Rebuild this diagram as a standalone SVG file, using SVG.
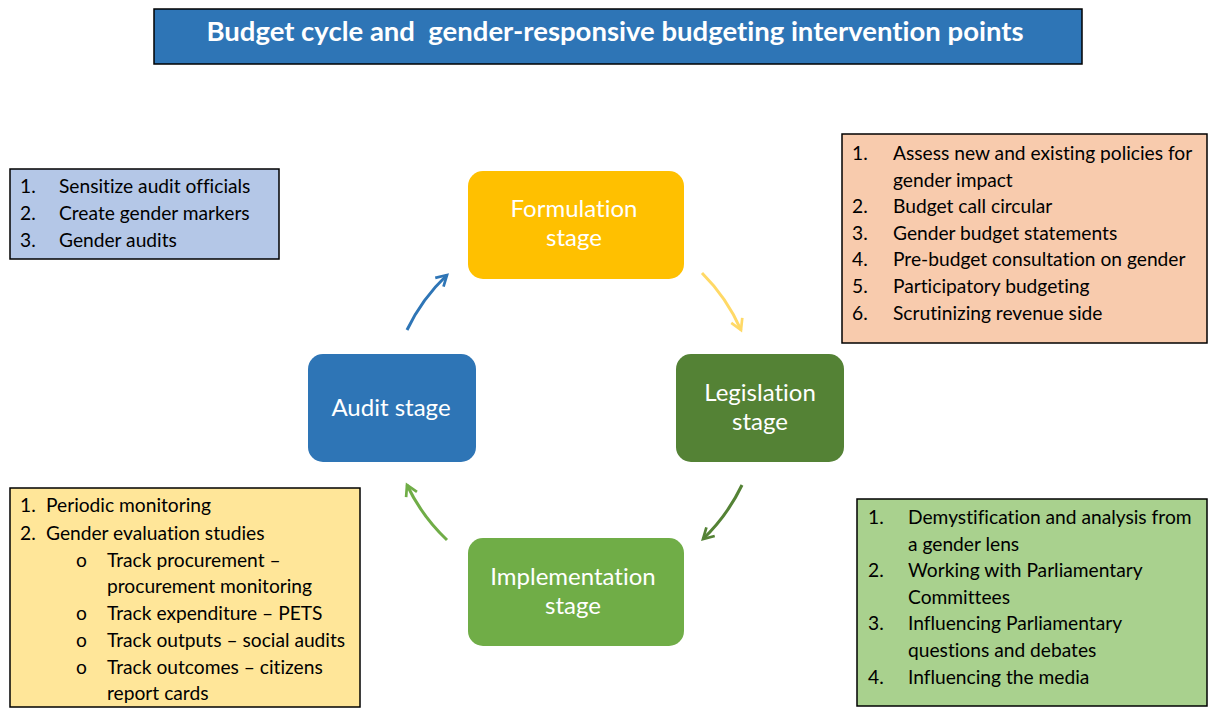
<svg xmlns="http://www.w3.org/2000/svg" width="1209" height="708" viewBox="0 0 1209 708">
<style>
text{font-variant-ligatures:none}
.box{stroke:#000;stroke-width:1.5}
.t{font-family:Lato,"Liberation Sans",sans-serif;font-size:19.2px;fill:#000}
.st{font-family:Lato,"Liberation Sans",sans-serif;font-size:24px;fill:#fff;text-anchor:middle}
.arc{fill:none;stroke-width:3}
</style>
<defs>
<marker id="mb" viewBox="0 0 10 10" refX="8" refY="5" markerWidth="5" markerHeight="5" orient="auto" markerUnits="strokeWidth"><path d="M1,1 L8,5 L1,9" fill="none" stroke="#2E75B6" stroke-width="1.8"/></marker>
<marker id="my" viewBox="0 0 10 10" refX="8" refY="5" markerWidth="5" markerHeight="5" orient="auto" markerUnits="strokeWidth"><path d="M1,1 L8,5 L1,9" fill="none" stroke="#FFD966" stroke-width="1.8"/></marker>
<marker id="mdg" viewBox="0 0 10 10" refX="8" refY="5" markerWidth="5" markerHeight="5" orient="auto" markerUnits="strokeWidth"><path d="M1,1 L8,5 L1,9" fill="none" stroke="#548235" stroke-width="1.8"/></marker>
<marker id="mlg" viewBox="0 0 10 10" refX="8" refY="5" markerWidth="5" markerHeight="5" orient="auto" markerUnits="strokeWidth"><path d="M1,1 L8,5 L1,9" fill="none" stroke="#70AD47" stroke-width="1.8"/></marker>
</defs>
<rect width="1209" height="708" fill="#fff"/>
<g id="title">
<rect x="154" y="9" width="928" height="55" fill="#2E75B6" class="box"/>
<text x="615" y="41" font-family="Lato,'Liberation Sans',sans-serif" font-weight="bold" font-size="27.5" fill="#fff" text-anchor="middle" xml:space="preserve">Budget cycle and  gender-responsive budgeting intervention points</text>
</g>
<g id="audit-notes">
<rect x="10" y="169" width="269" height="90" fill="#B4C7E7" class="box"/>
<text class="t"><tspan x="20" y="193">1.</tspan><tspan x="59" y="193">Sensitize audit officials</tspan><tspan x="20" y="220">2.</tspan><tspan x="59" y="220">Create gender markers</tspan><tspan x="20" y="247">3.</tspan><tspan x="59" y="247">Gender audits</tspan></text>
</g>
<g id="formulation-notes">
<rect x="842" y="134" width="365" height="209" fill="#F8CBAD" class="box"/>
<text class="t"><tspan x="852" y="160">1.</tspan><tspan x="893" y="160">Assess new and existing policies for</tspan><tspan x="893" y="187">gender impact</tspan><tspan x="852" y="213">2.</tspan><tspan x="893" y="213">Budget call circular</tspan><tspan x="852" y="240">3.</tspan><tspan x="893" y="240">Gender budget statements</tspan><tspan x="852" y="266">4.</tspan><tspan x="893" y="266">Pre-budget consultation on gender</tspan><tspan x="852" y="293">5.</tspan><tspan x="893" y="293">Participatory budgeting</tspan><tspan x="852" y="320">6.</tspan><tspan x="893" y="320">Scrutinizing revenue side</tspan></text>
</g>
<g id="implementation-notes">
<rect x="10" y="488" width="350" height="219" fill="#FFE699" class="box"/>
<text class="t"><tspan x="20" y="512">1.</tspan><tspan x="46" y="512">Periodic monitoring</tspan><tspan x="20" y="540">2.</tspan><tspan x="46" y="540">Gender evaluation studies</tspan><tspan x="76" y="567">o</tspan><tspan x="107" y="567">Track procurement –</tspan><tspan x="107" y="593">procurement monitoring</tspan><tspan x="76" y="620">o</tspan><tspan x="107" y="620">Track expenditure – PETS</tspan><tspan x="76" y="647">o</tspan><tspan x="107" y="647">Track outputs – social audits</tspan><tspan x="76" y="674">o</tspan><tspan x="107" y="674">Track outcomes – citizens</tspan><tspan x="107" y="700">report cards</tspan></text>
</g>
<g id="legislation-notes">
<rect x="857" y="499" width="350" height="207" fill="#A9D18E" class="box"/>
<text class="t"><tspan x="868" y="524">1.</tspan><tspan x="908" y="524">Demystification and analysis from</tspan><tspan x="908" y="551">a gender lens</tspan><tspan x="868" y="577">2.</tspan><tspan x="908" y="577">Working with Parliamentary</tspan><tspan x="908" y="604">Committees</tspan><tspan x="868" y="630">3.</tspan><tspan x="908" y="630">Influencing Parliamentary</tspan><tspan x="908" y="657">questions and debates</tspan><tspan x="868" y="684">4.</tspan><tspan x="908" y="684">Influencing the media</tspan></text>
</g>
<g id="formulation">
<rect x="468" y="171" width="216" height="108" rx="15" fill="#FFC000"/>
<text class="st"><tspan x="574" y="217">Formulation</tspan><tspan x="574" y="246">stage</tspan></text>
</g>
<g id="legislation">
<rect x="676" y="354" width="168" height="108" rx="15" fill="#548235"/>
<text class="st"><tspan x="760" y="401">Legislation</tspan><tspan x="760" y="430">stage</tspan></text>
</g>
<g id="implementation">
<rect x="468" y="538" width="216" height="108" rx="15" fill="#70AD47"/>
<text class="st"><tspan x="573" y="585">Implementation</tspan><tspan x="573" y="614">stage</tspan></text>
</g>
<g id="audit">
<rect x="308" y="354" width="168" height="108" rx="15" fill="#2E75B6"/>
<text class="st" x="391" y="416">Audit stage</text>
</g>
<g id="connectors">
<path class="arc" stroke="#2E75B6" marker-end="url(#mb)" d="M407,330 A186,186 0 0 1 447,275"/>
<path class="arc" stroke="#FFD966" marker-end="url(#my)" d="M702,273 A186,186 0 0 1 741,330"/>
<path class="arc" stroke="#548235" marker-end="url(#mdg)" d="M742,485 A186,186 0 0 1 703,539"/>
<path class="arc" stroke="#70AD47" marker-end="url(#mlg)" d="M447,540 A186,186 0 0 1 407,485"/>
</g>
</svg>
